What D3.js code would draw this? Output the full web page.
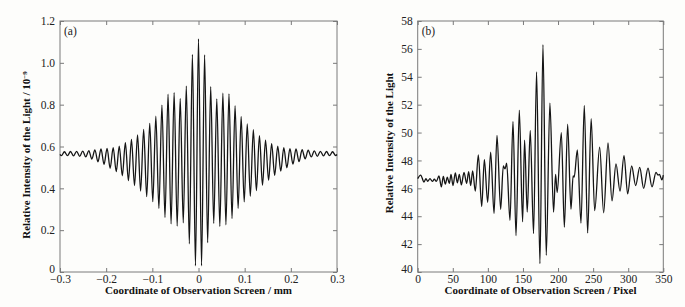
<!DOCTYPE html>
<html>
<head>
<meta charset="utf-8">
<script src="https://cdn.jsdelivr.net/npm/d3@7"></script>
<style>
  body { margin: 0; background: #fdfdfb; }
  svg { display: block; font-family: "Liberation Serif", "Times New Roman", serif; }
  .tick text { font-family: "Liberation Serif", "Times New Roman", serif; font-size: 11.5px; fill: #222; }
  .tick line { stroke: #7a7a7a; }
  .frame { fill: none; stroke: #7a7a7a; stroke-width: 1; }
  .title { font-size: 11px; font-weight: bold; fill: #111; }
  .tag { font-size: 11.5px; fill: #222; }
  .curve { fill: none; stroke: #151515; stroke-width: 1.3; }
</style>
</head>
<body>
<svg id="chart" width="685" height="307"></svg>
<script>
// (a) simulated fringe pattern: extrema, x in mm
var screenMmA = [-0.3,
  -0.297, -0.2904, -0.2838, -0.2772, -0.2706, -0.264, -0.2574, -0.2508, -0.2442, -0.2376,
  -0.231, -0.2244, -0.2178, -0.2112, -0.2046, -0.198, -0.1914, -0.1848, -0.1782, -0.1716,
  -0.165, -0.1584, -0.1518, -0.1452, -0.1386, -0.132, -0.1254, -0.1188, -0.1122, -0.1056,
  -0.099, -0.0924, -0.0858, -0.0792, -0.0726, -0.066, -0.0594, -0.0528, -0.0462, -0.0396,
  -0.033, -0.0264, -0.0198, -0.0132, -0.0066, 0,
  0.0066, 0.0132, 0.0198, 0.0264, 0.033, 0.0396, 0.0462, 0.0528, 0.0594, 0.066,
  0.0726, 0.0792, 0.0858, 0.0924, 0.099, 0.1056, 0.1122, 0.1188, 0.1254, 0.132,
  0.1386, 0.1452, 0.1518, 0.1584, 0.165, 0.1716, 0.1782, 0.1848, 0.1914, 0.198,
  0.2046, 0.2112, 0.2178, 0.2244, 0.231, 0.2376, 0.2442, 0.2508, 0.2574, 0.264,
  0.2706, 0.2772, 0.2838, 0.2904, 0.297, 0.3];
var intensityA = [0.562,
  0.556, 0.575, 0.556, 0.576, 0.555, 0.577, 0.553, 0.578, 0.550, 0.580,
  0.540, 0.584, 0.527, 0.588, 0.515, 0.591, 0.496, 0.594, 0.480, 0.602,
  0.460, 0.618, 0.437, 0.634, 0.413, 0.655, 0.387, 0.682, 0.360, 0.711,
  0.336, 0.745, 0.304, 0.798, 0.260, 0.850, 0.230, 0.857, 0.220, 0.830,
  0.235, 0.889, 0.135, 1.040, 0.030, 1.115,
  0.030, 1.038, 0.140, 0.886, 0.232, 0.828, 0.218, 0.855, 0.226, 0.852,
  0.255, 0.795, 0.304, 0.744, 0.335, 0.708, 0.362, 0.680, 0.389, 0.652,
  0.415, 0.630, 0.439, 0.614, 0.462, 0.602, 0.482, 0.594, 0.498, 0.590,
  0.516, 0.588, 0.528, 0.585, 0.541, 0.582, 0.550, 0.579, 0.553, 0.577,
  0.555, 0.576, 0.556, 0.575, 0.557, 0.562];
var xTicksA = [-0.3, -0.2, -0.1, 0, 0.1, 0.2, 0.3];
var yTicksA = [0, 0.2, 0.4, 0.6, 0.8, 1.0, 1.2];

// (b) measured fringe pattern, x in pixels
var screenPxB = [0, 4.2, 9, 11.8, 14.2, 17.5, 20.9, 23.7, 26.6, 30.3,
  33.7, 36.5, 39.4, 42.2, 45.1, 47.5, 50.3, 53.6, 56.5, 59.3,
  62.2, 66, 69.8, 72.6, 75.5, 78.3, 82.1, 86.4, 91.2, 95,
  99.7, 104, 108.8, 113, 118.2, 122, 124.4, 126.8, 131.5, 135.8,
  140.1, 144.8, 149.5, 152.3, 156.1, 160.4, 165.1, 169.4, 174.2, 178.5,
  183.2, 188.4, 193.6, 196.5, 198.8, 204.7, 209, 213.7, 218.4, 221.5,
  223, 227.5, 232.7, 237.4, 242.2, 247.2, 252.2, 259.3, 265, 271.2,
  276.9, 282.6, 288.3, 294, 299.2, 304.9, 310.6, 316.4, 322, 328.2,
  333.9, 339.6, 342.5, 344.5, 348, 350];
var intensityB = [46.7, 46.95, 46.45, 46.7, 46.5, 46.7, 46.5, 46.65, 46.5, 46.9,
  46.1, 46.85, 46.3, 46.8, 46.35, 47.0, 46.2, 47.1, 46.4, 47.0,
  46.25, 47.15, 46.35, 47.2, 46.2, 47.25, 45.8, 48.4, 44.7, 48.05,
  45.0, 48.6, 44.2, 49.8, 44.5, 47.6, 47.4, 47.8, 43.7, 50.8,
  42.6, 51.6, 43.6, 49.45, 44.3, 50.15, 42.75, 54.35, 40.6, 56.3,
  41.2, 52.1, 44.3, 47.0, 45.7, 50.0, 43.2, 50.6, 44.5, 46.9,
  46.8, 48.75, 43.5, 51.95, 42.8, 51.0, 44.4, 48.95, 44.25, 49.25,
  45.1, 47.75, 45.8, 48.35, 45.6, 47.6, 46.2, 47.5, 46.0, 47.45,
  46.1, 47.15, 46.95, 47.0, 46.6, 46.95];
var xTicksB = [0, 50, 100, 150, 200, 250, 300, 350];
var yTicksB = [40, 42, 44, 46, 48, 50, 52, 54, 56, 58];

var svg = d3.select("#chart");
svg.append("rect")
    .attr("width", 685)
    .attr("height", 307)
    .attr("fill", "#fdfdfb");

var tickLen = 4;

function renderPanel(p) {
  var x = d3.scaleLinear().domain(p.xDomain).range([p.left, p.right]);
  var y = d3.scaleLinear().domain(p.yDomain).range([p.bottom, p.top]);
  var g = svg.append("g");

  var noDomain = function(sel) { sel.select(".domain").remove(); };

  g.append("g")
      .attr("transform", `translate(0, ${p.bottom})`)
      .call(d3.axisBottom(x).tickValues(p.xTicks).tickFormat(p.xFormat)
          .tickSize(-tickLen).tickPadding(3))
      .call(noDomain);
  g.append("g")
      .attr("transform", `translate(0, ${p.top})`)
      .call(d3.axisTop(x).tickValues(p.xTicks).tickFormat("").tickSize(-tickLen))
      .call(noDomain);
  g.append("g")
      .attr("class", "y-left")
      .attr("transform", `translate(${p.left}, 0)`)
      .call(d3.axisLeft(y).tickValues(p.yTicks).tickFormat(p.yFormat)
          .tickSize(-tickLen).tickPadding(5))
      .call(noDomain);
  g.append("g")
      .attr("transform", `translate(${p.right}, 0)`)
      .call(d3.axisRight(y).tickValues(p.yTicks).tickFormat("").tickSize(-tickLen))
      .call(noDomain);

  // lift the bottom y label a little so it clears the first x label
  g.selectAll(".y-left .tick text")
      .filter(function(d) { return d === p.yDomain[0]; })
      .attr("dy", "0em");

  g.append("rect")
      .attr("class", "frame")
      .attr("x", p.left)
      .attr("y", p.top)
      .attr("width", p.right - p.left)
      .attr("height", p.bottom - p.top);

  var line = d3.line()
      .x(function(d) { return x(d[0]); })
      .y(function(d) { return y(d[1]); })
      .curve(d3.curveMonotoneX);
  g.append("path")
      .attr("class", "curve")
      .attr("d", line(d3.zip(p.xs, p.ys)));

  g.append("text")
      .attr("class", "tag")
      .attr("x", p.left + 4)
      .attr("y", p.top + 14)
      .text(p.tag);

  g.append("text")
      .attr("class", "title")
      .attr("x", (p.left + p.right) / 2)
      .attr("y", 294)
      .style("text-anchor", "middle")
      .text(p.xTitle);

  var yt = g.append("text")
      .attr("class", "title")
      .attr("transform", `translate(${p.yTitleX}, ${p.yTitleY}) rotate(-90)`)
      .style("text-anchor", "middle");
  yt.append("tspan").text(p.yTitle);
  if (p.yExp) {
    yt.append("tspan")
        .attr("dy", "-0.45em")
        .style("font-size", "7px")
        .text(p.yExp);
  }
}

var fmtA = function(d) { return d === 0 ? "0" : d3.format(".1f")(d); };

renderPanel({
  left: 60, right: 337, top: 21, bottom: 272,
  xDomain: [-0.3, 0.3], yDomain: [0, 1.2],
  xTicks: xTicksA, yTicks: yTicksA,
  xFormat: fmtA, yFormat: fmtA,
  xs: screenMmA, ys: intensityA,
  tag: "(a)",
  xTitle: "Coordinate of Observation Screen / mm",
  yTitle: "Relative Intensity of the Light / 10",
  yExp: "\u22129",
  yTitleX: 30, yTitleY: 155
});

renderPanel({
  left: 417.7, right: 663.3, top: 21, bottom: 272,
  xDomain: [0, 350], yDomain: [40, 58],
  xTicks: xTicksB, yTicks: yTicksB,
  xFormat: d3.format("d"), yFormat: d3.format("d"),
  xs: screenPxB, ys: intensityB,
  tag: "(b)",
  xTitle: "Coordinate of Observation Screen / Pixel",
  yTitle: "Relative Intensity of the Light",
  yTitleX: 393, yTitleY: 143
});
</script>
</body>
</html>
